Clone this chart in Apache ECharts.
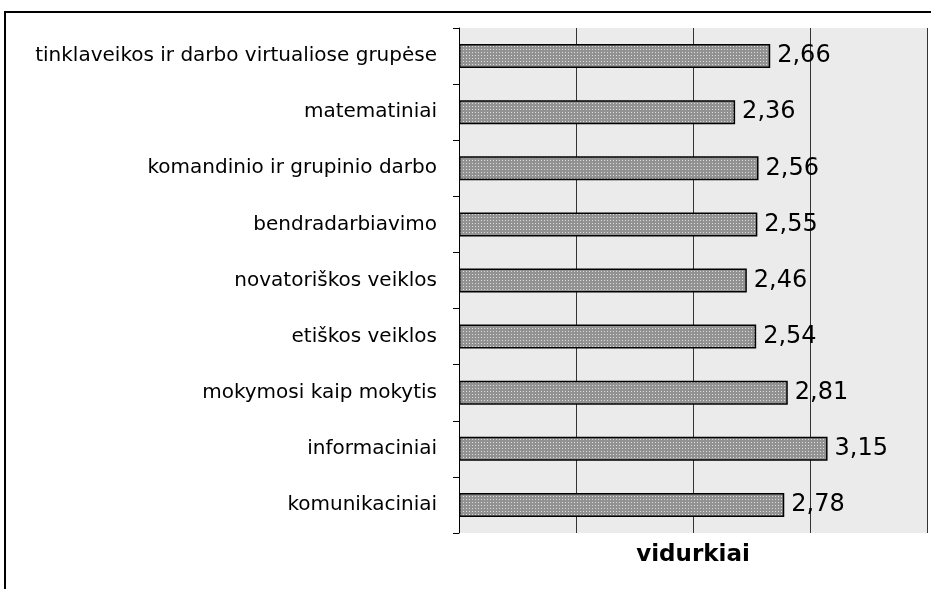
<!DOCTYPE html>
<html><head><meta charset="utf-8">
<script src="https://cdn.jsdelivr.net/npm/echarts@6/dist/echarts.min.js"></script>
<style>html,body{margin:0;padding:0;background:#fff}#c{width:931px;height:589px}</style>
</head><body><div id="c"></div>
<script>
const categories = [
  "tinklaveikos ir darbo virtualiose grupėse",
  "matematiniai",
  "komandinio ir grupinio darbo",
  "bendradarbiavimo",
  "novatoriškos veiklos",
  "etiškos veiklos",
  "mokymosi kaip mokytis",
  "informaciniai",
  "komunikaciniai"
];
const values = [2.66, 2.36, 2.56, 2.55, 2.46, 2.54, 2.81, 3.15, 2.78];
const axisName = "vidurkiai";

// dotted gray fill pattern
const pc = document.createElement('canvas');
pc.width = 3; pc.height = 3;
const px = pc.getContext('2d');
px.fillStyle = '#929292'; px.fillRect(0,0,3,3);
px.fillStyle = '#dcdcdc'; px.fillRect(1,1,1,1);

const FONT = 'DejaVu Sans, Liberation Sans, Arial, sans-serif';
const chart = echarts.init(document.getElementById('c'));
chart.setOption({
  animation: false,
  textStyle: {fontFamily: FONT},
  grid: {left: 459, right: 4, top: 28, bottom: 56, show: true, backgroundColor: '#ebebeb', borderWidth: 0},
  xAxis: {
    type: 'value', min: 0, max: 4, interval: 1,
    axisLine: {show: false}, axisTick: {show: false}, axisLabel: {show: false},
    splitLine: {show: true, lineStyle: {color: '#333', width: 1}},
    name: axisName, nameLocation: 'middle', nameGap: 11,
    nameTextStyle: {fontSize: 23, fontWeight: 'bold', color: '#000', fontFamily: FONT, verticalAlign: 'top'}
  },
  yAxis: {
    type: 'category', data: categories, inverse: true,
    axisLine: {show: true, lineStyle: {color: '#000', width: 1}},
    axisTick: {show: true, length: 6, lineStyle: {color: '#000'}},
    axisLabel: {fontSize: 20, color: '#000', margin: 22, fontFamily: FONT},
    splitLine: {show: false}
  },
  series: [{
    type: 'bar', data: values, barWidth: 24,
    itemStyle: {color: {image: pc, repeat: 'repeat'}, borderColor: '#000', borderWidth: 1.5},
    label: {show: true, position: 'right', distance: 7, fontSize: 24, color: '#000', fontFamily: FONT,
      formatter: p => p.value.toFixed(2).replace('.', ',')}
  }],
  graphic: [{
    type: 'rect', shape: {x: 5, y: 12, width: 960, height: 620},
    style: {fill: 'none', stroke: '#000', lineWidth: 2}, z: 100
  }]
});
</script></body></html>
